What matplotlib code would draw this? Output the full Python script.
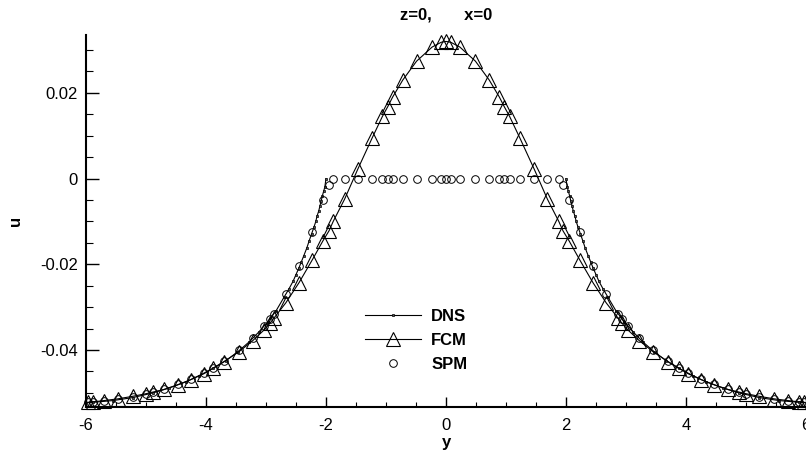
import numpy as np
import matplotlib
matplotlib.use('Agg')
import matplotlib.pyplot as plt
from matplotlib.ticker import MultipleLocator, FuncFormatter

plt.rcParams.update({'font.family': 'Liberation Sans', 'font.size': 12})

# shared sample positions of FCM / SPM
y_grid = [-5.97, -5.88, -5.70, -5.47, -5.22, -5.00, -4.88, -4.70, -4.47, -4.25, -4.03, -3.88,
          -3.70, -3.45, -3.22, -3.03, -2.93, -2.87, -2.67, -2.45, -2.23, -2.05, -1.95, -1.88,
          -1.69, -1.47, -1.23, -1.06, -0.97, -0.89, -0.72, -0.49, -0.23, -0.08, 0.0,
          0.08, 0.23, 0.49, 0.72, 0.89, 0.97, 1.06, 1.23, 1.47, 1.69, 1.88, 1.95, 2.05,
          2.23, 2.45, 2.67, 2.87, 2.93, 3.03, 3.22, 3.45, 3.70, 3.88, 4.03, 4.25, 4.47,
          4.70, 4.88, 5.00, 5.22, 5.47, 5.70, 5.88, 5.97]
u_fcm = [-0.0522, -0.0521, -0.0518, -0.0514, -0.0508, -0.0502, -0.0498, -0.0492, -0.0481,
         -0.0469, -0.0455, -0.0442, -0.0427, -0.0404, -0.0378, -0.0353, -0.0337, -0.0326,
         -0.0290, -0.0243, -0.0190, -0.0145, -0.0122, -0.0100, -0.0048, 0.0022, 0.0095,
         0.0145, 0.0168, 0.0190, 0.0230, 0.0274, 0.0307, 0.0318, 0.0320,
         0.0318, 0.0307, 0.0274, 0.0230, 0.0190, 0.0168, 0.0145, 0.0095, 0.0022, -0.0048,
         -0.0100, -0.0122, -0.0145, -0.0190, -0.0243, -0.0290, -0.0326, -0.0337, -0.0353,
         -0.0378, -0.0404, -0.0427, -0.0442, -0.0455, -0.0469, -0.0481, -0.0492, -0.0498,
         -0.0502, -0.0508, -0.0514, -0.0518, -0.0521, -0.0522]
u_spm = [-0.0522, -0.0521, -0.0519, -0.0515, -0.0509, -0.0502, -0.0498, -0.0491, -0.0480,
         -0.0468, -0.0453, -0.0441, -0.0425, -0.0400, -0.0372, -0.0345, -0.0328, -0.0315,
         -0.0270, -0.0205, -0.0125, -0.0050, -0.0015, 0.0, 0.0, 0.0, 0.0, 0.0, 0.0, 0.0,
         0.0, 0.0, 0.0, 0.0, 0.0, 0.0, 0.0, 0.0, 0.0, 0.0, 0.0, 0.0, 0.0, 0.0, 0.0, 0.0,
         -0.0015, -0.0050, -0.0125, -0.0205, -0.0270, -0.0315, -0.0328, -0.0345, -0.0372,
         -0.0400, -0.0425, -0.0441, -0.0453, -0.0468, -0.0480, -0.0491, -0.0498, -0.0502,
         -0.0509, -0.0515, -0.0519, -0.0521, -0.0522]

# DNS, fluid region only (|y| >= 2)
y_dns_l = [-6.0, -5.88, -5.55, -5.22, -4.88, -4.62, -4.33, -4.12, -3.88, -3.67, -3.47, -3.28,
           -3.12, -2.97, -2.83, -2.70, -2.62, -2.55, -2.50, -2.45, -2.41, -2.37, -2.32, -2.28,
           -2.24, -2.20, -2.17, -2.15, -2.12, -2.10, -2.08, -2.06, -2.04, -2.02, -2.0]
u_dns_l = [-0.0523, -0.0522, -0.0518, -0.0511, -0.0500, -0.0489, -0.0474, -0.0460, -0.0443,
           -0.0425, -0.0404, -0.0381, -0.0358, -0.0334, -0.0308, -0.0277, -0.0258, -0.0240,
           -0.0224, -0.0208, -0.0194, -0.0180, -0.0162, -0.0145, -0.0129, -0.0113, -0.0100,
           -0.0088, -0.0075, -0.0063, -0.0052, -0.0040, -0.0030, -0.0020, 0.0]
y_dns_r = [2.0, 2.02, 2.04, 2.06, 2.08, 2.10, 2.12, 2.15, 2.17, 2.20, 2.24, 2.28, 2.32, 2.37,
           2.41, 2.45, 2.50, 2.55, 2.62, 2.70, 2.83, 2.97, 3.12, 3.28, 3.47, 3.67, 3.88, 4.12,
           4.33, 4.62, 4.88, 5.22, 5.55, 5.88, 6.0]
u_dns_r = [0.0, -0.0020, -0.0030, -0.0040, -0.0052, -0.0063, -0.0075, -0.0088, -0.0100,
           -0.0113, -0.0129, -0.0145, -0.0162, -0.0180, -0.0194, -0.0208, -0.0224, -0.0240,
           -0.0258, -0.0277, -0.0308, -0.0334, -0.0358, -0.0381, -0.0404, -0.0425, -0.0443,
           -0.0460, -0.0474, -0.0489, -0.0500, -0.0511, -0.0518, -0.0522, -0.0523]

fig = plt.figure(figsize=(8.06, 4.53), dpi=100)
ax = fig.add_axes([86/806, 1-407/453, 720/806, 372/453])

ax.plot(y_dns_l, u_dns_l, '-s', color='k', lw=0.8, ms=1.8, mfc='#555555', mec='k', mew=0.5,
        label='DNS', clip_on=False)
ax.plot(y_dns_r, u_dns_r, '-s', color='k', lw=0.8, ms=1.8, mfc='#555555', mec='k', mew=0.5,
        clip_on=False)
ax.plot(y_grid, u_fcm, '-^', color='k', lw=0.8, ms=9.5, mfc='none', mec='k', mew=0.8,
        label='FCM', clip_on=False)
ax.plot(y_grid, u_spm, 'o', ms=5.5, mfc='none', mec='k', mew=0.7, label='SPM', clip_on=False)

ax.set_xlim(-6, 6)
ax.set_ylim(-0.0533, 0.0335)
for s in ['top', 'right']:
    ax.spines[s].set_visible(False)
for s in ['left', 'bottom']:
    ax.spines[s].set_linewidth(1.5)

ax.xaxis.set_major_locator(MultipleLocator(2))
ax.xaxis.set_minor_locator(MultipleLocator(0.5))
ax.yaxis.set_major_locator(MultipleLocator(0.02))
ax.yaxis.set_minor_locator(MultipleLocator(0.005))
fmt = lambda v, p: ('%g' % round(v, 6)).replace('\u2212', '-')
ax.xaxis.set_major_formatter(FuncFormatter(fmt))
ax.yaxis.set_major_formatter(FuncFormatter(fmt))
ax.tick_params(axis='x', which='major', direction='in', length=7, width=1, pad=8)
ax.tick_params(axis='x', which='minor', direction='in', length=3.5, width=0.8)
ax.tick_params(axis='y', which='major', direction='in', length=9, width=1, pad=6)
ax.tick_params(axis='y', which='minor', direction='in', length=5, width=0.8)

ax.set_xlabel('y', fontweight='bold', labelpad=1)
ax.set_ylabel('u', fontweight='bold', labelpad=12)
ax.set_title('z=0,       x=0', fontweight='bold', fontsize=12, pad=11)

ax.legend(loc='upper left', bbox_to_anchor=(0.387, 0.264), frameon=False, borderpad=0,
          borderaxespad=0, handlelength=3.4, handletextpad=0.6, labelspacing=0.55,
          prop={'weight': 'bold', 'size': 12})

fig.savefig('out.png', dpi=100)
